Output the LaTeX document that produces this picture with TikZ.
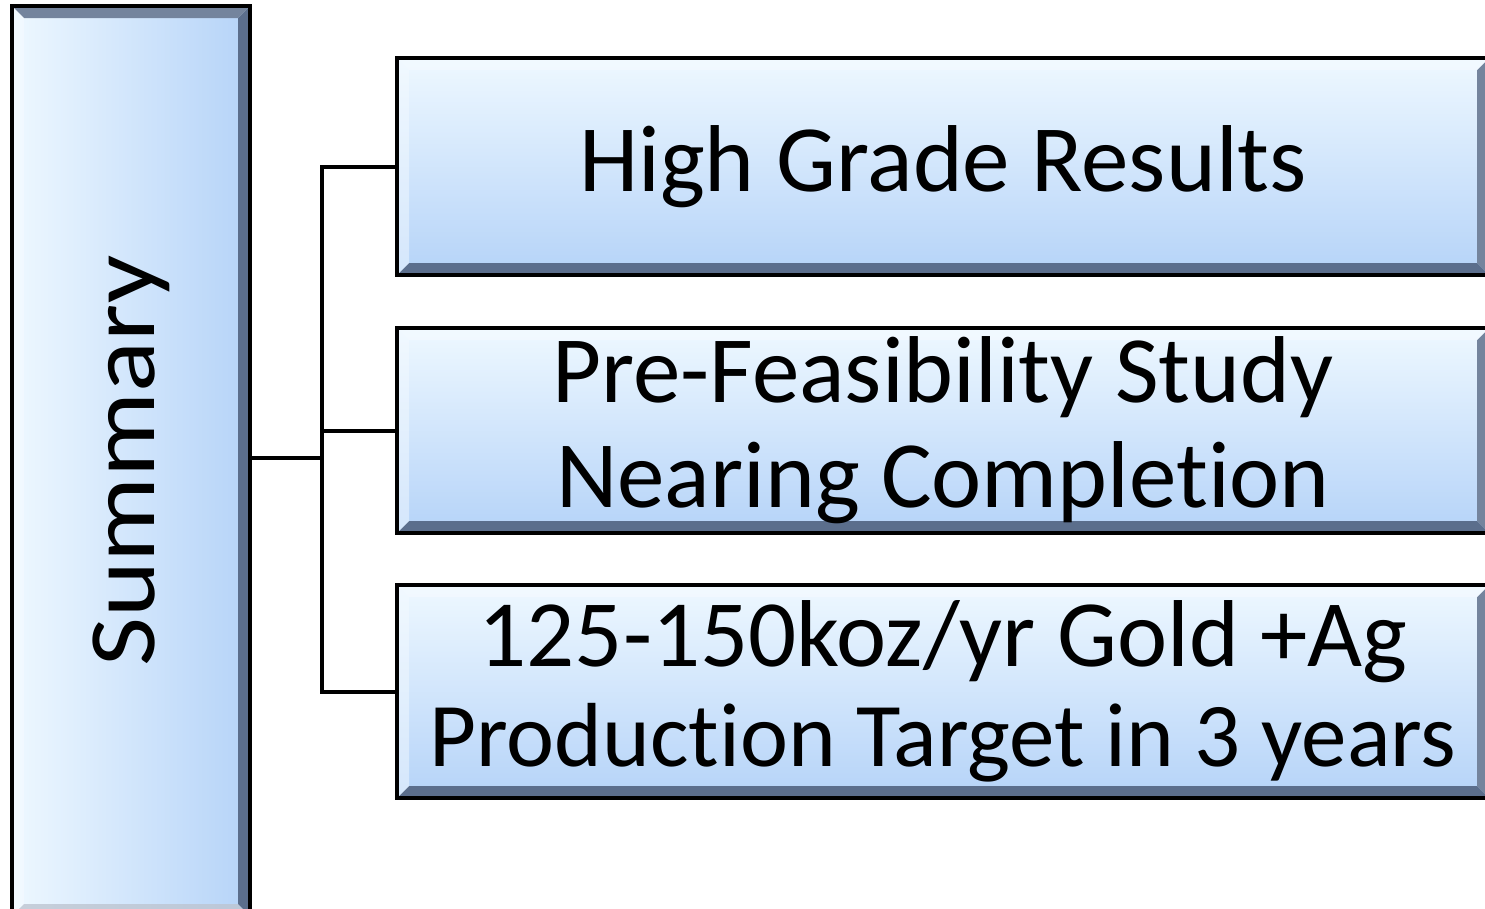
\documentclass[tikz,border=0pt]{standalone}
\usepackage{fontspec}
\setmainfont{Carlito}[Ligatures=NoCommon]
\usetikzlibrary{calc}

\definecolor{boxtop}{HTML}{EEF8FF}
\definecolor{boxbot}{HTML}{B5D3F8}
\definecolor{bevdark}{HTML}{5B6E8C}
\definecolor{bevlight}{HTML}{F4FAFF}

\begin{document}
\begin{tikzpicture}[x=1pt,y=-1pt,
    conn/.style={line width=4pt,line cap=rect},
    item box/.style={draw=black,line width=3.5pt,inner sep=0pt,align=center,
      font=\fontsize{95}{105}\selectfont,
      top color=boxtop,bottom color=boxbot,
      path picture={
        \fill[bevdark] (path picture bounding box.south west) -- (path picture bounding box.south east)
          -- ([shift={(-12pt,12pt)}]path picture bounding box.south east)
          -- ([shift={(12pt,12pt)}]path picture bounding box.south west) -- cycle;
        \fill[bevdark!85] (path picture bounding box.south east) -- (path picture bounding box.north east)
          -- ([shift={(-12pt,-12pt)}]path picture bounding box.north east)
          -- ([shift={(-12pt,12pt)}]path picture bounding box.south east) -- cycle;
        \fill[bevlight,opacity=.7] (path picture bounding box.north west) -- (path picture bounding box.north east)
          -- ([shift={(-12pt,-12pt)}]path picture bounding box.north east)
          -- ([shift={(12pt,-12pt)}]path picture bounding box.north west) -- cycle;
        \fill[bevlight,opacity=.5] (path picture bounding box.north west) -- (path picture bounding box.south west)
          -- ([shift={(12pt,12pt)}]path picture bounding box.south west)
          -- ([shift={(12pt,-12pt)}]path picture bounding box.north west) -- cycle;
      }},
    side box/.style={draw=black,line width=3.5pt,inner sep=0pt,
      font=\fontsize{95}{105}\selectfont,
      left color=boxtop,right color=boxbot,
      path picture={
        \fill[bevdark] (path picture bounding box.north east) -- (path picture bounding box.south east)
          -- ([shift={(-12pt,12pt)}]path picture bounding box.south east)
          -- ([shift={(-12pt,-12pt)}]path picture bounding box.north east) -- cycle;
        \fill[bevdark!85] (path picture bounding box.north west) -- (path picture bounding box.north east)
          -- ([shift={(-12pt,-12pt)}]path picture bounding box.north east)
          -- ([shift={(12pt,-12pt)}]path picture bounding box.north west) -- cycle;
        \fill[bevlight,opacity=.7] (path picture bounding box.north west) -- (path picture bounding box.south west)
          -- ([shift={(12pt,12pt)}]path picture bounding box.south west)
          -- ([shift={(12pt,-12pt)}]path picture bounding box.north west) -- cycle;
        \fill[bevdark!40,opacity=.8] (path picture bounding box.south west) -- (path picture bounding box.south east)
          -- ([shift={(-12pt,12pt)}]path picture bounding box.south east)
          -- ([shift={(12pt,12pt)}]path picture bounding box.south west) -- cycle;
      }}]

  \useasboundingbox[fill=white] (0,0) rectangle (1485,908);

  \node[side box,minimum width=238,minimum height=910] (summary) at (131,461)
    {\rotatebox{90}{\scalebox{1.12}[1]{Summary}}};

  \node[item box,minimum width=1092,minimum height=217] (high) at (943,166.5)
    {High Grade Results};
  \node[item box,minimum width=1092,minimum height=205] (feas) at (943,430.5)
    {Pre-Feasibility Study\\Nearing Completion};
  \node[item box,minimum width=1092,minimum height=213,font=\fontsize{95}{100}\selectfont] (target) at (943,691.5)
    {125-150koz/yr Gold +Ag\\{\fontsize{91}{100}\selectfont Production Target in 3 years}};

  \coordinate (trunk) at (322,458);

  \draw[conn] (summary.east |- trunk) -- (trunk);
  \draw[conn] (high.west) -| (trunk) |- (target.west);
  \draw[conn] (feas.west) -- (feas.west -| trunk);
\end{tikzpicture}
\end{document}
